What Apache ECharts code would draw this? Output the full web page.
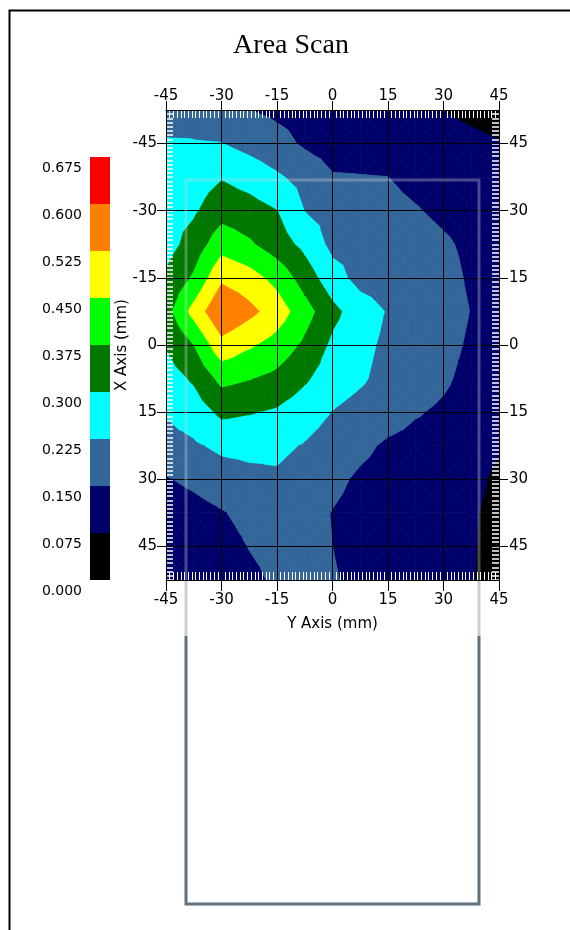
<!DOCTYPE html>
<html>
<head>
<meta charset="utf-8">
<title>Area Scan</title>
<script src="https://cdn.jsdelivr.net/npm/echarts@6/dist/echarts.min.js"></script>
<style>
  html, body { margin: 0; padding: 0; background: #fff; }
  #main { width: 570px; height: 930px; }
</style>
</head>
<body>
<div id="main"></div>
<script>
// scan positions (mm)
var xPos = [-45, -37.5, -30, -22.5, -15, -7.5, 0, 7.5, 15, 22.5, 30, 37.5, 45];
var yPos = [-52.5, -45, -37.5, -30, -22.5, -15, -7.5, 0, 7.5, 15, 22.5, 30, 37.5, 45, 52.5];

// amplitude, one row per yPos, one value per xPos
var amp = [
  [0.200, 0.190, 0.175, 0.151, 0.135, 0.125, 0.115, 0.110, 0.105, 0.100, 0.074, 0.060, 0.050],
  [0.231, 0.230, 0.2265, 0.200, 0.175, 0.140, 0.120, 0.118, 0.115, 0.110, 0.100, 0.090, 0.078],
  [0.255, 0.270, 0.295, 0.270, 0.235, 0.200, 0.155, 0.153, 0.1505, 0.130, 0.115, 0.100, 0.090],
  [0.270, 0.290, 0.345, 0.330, 0.301, 0.224, 0.200, 0.185, 0.170, 0.155, 0.135, 0.120, 0.100],
  [0.270, 0.330, 0.420, 0.385, 0.335, 0.280, 0.205, 0.200, 0.190, 0.180, 0.160, 0.135, 0.110],
  [0.310, 0.385, 0.510, 0.480, 0.425, 0.340, 0.255, 0.200, 0.190, 0.185, 0.175, 0.140, 0.115],
  [0.345, 0.475, 0.595, 0.545, 0.490, 0.405, 0.320, 0.260, 0.220, 0.200, 0.180, 0.148, 0.120],
  [0.305, 0.375, 0.500, 0.460, 0.420, 0.360, 0.285, 0.245, 0.210, 0.190, 0.172, 0.140, 0.115],
  [0.265, 0.310, 0.395, 0.378, 0.355, 0.310, 0.260, 0.235, 0.200, 0.180, 0.160, 0.130, 0.110],
  [0.230, 0.260, 0.315, 0.305, 0.290, 0.260, 0.223, 0.200, 0.180, 0.155, 0.140, 0.120, 0.100],
  [0.200, 0.215, 0.240, 0.245, 0.240, 0.220, 0.190, 0.165, 0.140, 0.130, 0.125, 0.110, 0.080],
  [0.145, 0.165, 0.190, 0.205, 0.215, 0.195, 0.165, 0.140, 0.125, 0.115, 0.110, 0.095, 0.060],
  [0.110, 0.125, 0.145, 0.170, 0.185, 0.175, 0.148, 0.130, 0.120, 0.110, 0.100, 0.085, 0.050],
  [0.100, 0.110, 0.125, 0.152, 0.170, 0.165, 0.150, 0.130, 0.120, 0.110, 0.100, 0.082, 0.045],
  [0.090, 0.100, 0.115, 0.135, 0.160, 0.162, 0.155, 0.135, 0.120, 0.110, 0.100, 0.080, 0.040]
];

var levels = [0, 0.075, 0.15, 0.225, 0.3, 0.375, 0.45, 0.525, 0.6, 0.675];
var bandColors = ['#000000', '#00006b', '#336699', '#00ffff', '#007800', '#00ff00', '#ffff00', '#ff8000', '#ff0000'];
var axisTicks = [-45, -30, -15, 0, 15, 30, 45];

var cells = [];
for (var i = 0; i < yPos.length - 1; i++) {
  for (var j = 0; j < xPos.length - 1; j++) {
    cells.push([xPos[j], yPos[i], xPos[j + 1], yPos[i + 1],
      amp[i][j], amp[i][j + 1], amp[i + 1][j], amp[i + 1][j + 1]]);
  }
}

var legendBoxes = levels.slice(0, -1).map(function (lo, k) {
  return [0, lo, 1, levels[k + 1], k];
});

// keep the part of a polygon above (or below) level t, values linear along edges
function clip(poly, t, above) {
  var out = [];
  for (var i = 0; i < poly.length; i++) {
    var p = poly[i], q = poly[(i + 1) % poly.length];
    var pin = above ? p[2] >= t : p[2] < t;
    var qin = above ? q[2] >= t : q[2] < t;
    if (pin) out.push(p);
    if (pin !== qin) {
      var f = (t - p[2]) / (q[2] - p[2]);
      out.push([p[0] + f * (q[0] - p[0]), p[1] + f * (q[1] - p[1]), t]);
    }
  }
  return out;
}

function renderCell(params, api) {
  var x0 = api.value(0), y0 = api.value(1), x1 = api.value(2), y1 = api.value(3);
  var a = api.value(4), b = api.value(5), c = api.value(6), d = api.value(7);
  var p00 = [x0, y0, a], p10 = [x1, y0, b], p01 = [x0, y1, c], p11 = [x1, y1, d];
  var mid = [(x0 + x1) / 2, (y0 + y1) / 2, (a + b + c + d) / 4];
  var tris = [[p00, p10, mid], [p10, p11, mid], [p11, p01, mid], [p01, p00, mid]];
  var children = [];
  tris.forEach(function (tri) {
    for (var k = 0; k < bandColors.length; k++) {
      var poly = tri;
      if (k > 0) poly = clip(poly, levels[k], true);
      if (k < bandColors.length - 1) poly = clip(poly, levels[k + 1], false);
      if (poly.length < 3) continue;
      children.push({
        type: 'polygon',
        silent: true,
        shape: { points: poly.map(function (p) { return api.coord([p[0], p[1]]); }) },
        style: { fill: bandColors[k], stroke: bandColors[k], lineWidth: 0.8 }
      });
    }
  });
  return { type: 'group', children: children };
}

function renderLegendBox(params, api) {
  var p0 = api.coord([api.value(0), api.value(1)]);
  var p1 = api.coord([api.value(2), api.value(3)]);
  return {
    type: 'rect',
    shape: { x: p0[0], y: p1[1], width: p1[0] - p0[0], height: p0[1] - p1[1] },
    style: { fill: bandColors[api.value(4)] }
  };
}

var labelFont = { color: '#000', fontFamily: 'DejaVu Sans', fontSize: 15 };

function mainX(pos) {
  return {
    type: 'value', gridIndex: 0, position: pos, min: -45, max: 45, interval: 15, z: 5,
    axisLine: { show: true, onZero: false, lineStyle: { color: '#000', width: 1 } },
    axisTick: { show: true, inside: false, length: pos === 'top' ? 9 : 11, lineStyle: { color: '#000' } },
    axisLabel: Object.assign({ margin: pos === 'top' ? 6 : 13 }, labelFont),
    splitLine: { show: pos === 'bottom', lineStyle: { color: '#000', width: 1 } }
  };
}
function hatchX(pos) {
  return {
    type: 'value', gridIndex: 0, position: pos, min: -45, max: 45, interval: 15, z: 4,
    axisLine: { show: false, onZero: false },
    axisLabel: { show: false },
    splitLine: { show: false },
    axisTick: { show: true, inside: true, length: 8, lineStyle: { color: '#fff', width: 1 } },
    minorTick: { show: true, splitNumber: 15, length: 8, lineStyle: { color: '#fff', width: 1 } }
  };
}
function mainY(pos) {
  var label = Object.assign({ margin: pos === 'left' ? 9 : 10, customValues: axisTicks }, labelFont);
  if (pos === 'right') label.formatter = function (v) { return String(Math.abs(v)); };
  return {
    type: 'value', gridIndex: 0, position: pos, inverse: true, min: -52.5, max: 52.5, interval: 7.5, z: 5,
    axisLine: { show: true, onZero: false, lineStyle: { color: '#000', width: 1 } },
    axisTick: { show: true, inside: false, length: 9, customValues: axisTicks, lineStyle: { color: '#000' } },
    axisLabel: label,
    splitLine: { show: pos === 'left', lineStyle: { color: '#000', width: 1 } }
  };
}
function hatchY(pos) {
  return {
    type: 'value', gridIndex: 0, position: pos, inverse: true, min: -52.5, max: 52.5, interval: 7.5, z: 4,
    axisLine: { show: false, onZero: false },
    axisLabel: { show: false },
    splitLine: { show: false },
    axisTick: { show: true, inside: true, length: 7, lineStyle: { color: '#fff', width: 1.5 } },
    minorTick: { show: true, splitNumber: 8, length: 7, lineStyle: { color: '#fff', width: 1.5 } }
  };
}

var xBottom = mainX('bottom');
xBottom.name = 'Y Axis (mm)';
xBottom.nameLocation = 'middle';
xBottom.nameGap = 37;
xBottom.nameMoveOverlap = false;
xBottom.nameTextStyle = labelFont;

var yLeft = mainY('left');
yLeft.name = 'X Axis (mm)';
yLeft.nameLocation = 'middle';
yLeft.nameGap = 36;
yLeft.nameRotate = 90;
yLeft.nameMoveOverlap = false;
yLeft.nameTextStyle = labelFont;

var chart = echarts.init(document.getElementById('main'), null, { renderer: 'canvas' });
chart.setOption({
  backgroundColor: '#fff',
  animation: false,
  title: {
    text: 'Area Scan',
    left: 286,
    top: 27,
    textAlign: 'center',
    textStyle: { fontFamily: 'Liberation Serif', fontWeight: 'normal', fontSize: 28, color: '#000' }
  },
  grid: [
    { left: 166, top: 110, width: 333, height: 470, containLabel: false },
    { left: 90, top: 157, width: 20, height: 423, containLabel: false }
  ],
  xAxis: [
    xBottom, mainX('top'), hatchX('bottom'), hatchX('top'),
    { type: 'value', gridIndex: 1, min: 0, max: 1, show: false }
  ],
  yAxis: [
    yLeft, mainY('right'), hatchY('left'), hatchY('right'),
    {
      type: 'value', gridIndex: 1, position: 'left', min: 0, max: 0.675, interval: 0.075,
      axisLine: { show: false, onZero: false }, axisTick: { show: false }, splitLine: { show: false },
      axisLabel: {
        color: '#000', fontFamily: 'DejaVu Sans', fontSize: 14, margin: 8,
        verticalAlign: 'top', padding: [4, 0, 0, 0],
        formatter: function (v) { return v.toFixed(3); }
      }
    }
  ],
  series: [
    {
      type: 'custom',
      name: 'amplitude',
      xAxisIndex: 0,
      yAxisIndex: 0,
      clip: true,
      z: 2,
      renderItem: renderCell,
      encode: { x: [0, 2], y: [1, 3] },
      data: cells
    },
    {
      type: 'custom',
      name: 'scale',
      xAxisIndex: 4,
      yAxisIndex: 4,
      renderItem: renderLegendBox,
      encode: { x: [0, 2], y: [1, 3] },
      data: legendBoxes
    }
  ],
  graphic: [
    {
      type: 'polyline', z: 100, silent: true,
      shape: { points: [[9.5, 930], [9.5, 10.5], [570, 10.5]] },
      style: { stroke: '#000', lineWidth: 2, fill: null }
    },
    {
      type: 'polyline', z: 100, silent: true,
      shape: { points: [[186, 580], [186, 180], [479, 180], [479, 580]] },
      style: { stroke: 'rgba(205,210,215,0.35)', lineWidth: 3, fill: null }
    },
    {
      type: 'line', z: 100, silent: true,
      shape: { x1: 186, y1: 581, x2: 186, y2: 636 },
      style: { stroke: '#c8d0d5', lineWidth: 3 }
    },
    {
      type: 'line', z: 100, silent: true,
      shape: { x1: 479, y1: 581, x2: 479, y2: 636 },
      style: { stroke: '#c8d0d5', lineWidth: 3 }
    },
    {
      type: 'polyline', z: 100, silent: true,
      shape: { points: [[186, 636], [186, 904], [479, 904], [479, 636]] },
      style: { stroke: '#5e717c', lineWidth: 3, fill: null }
    }
  ]
});
</script>
</body>
</html>
